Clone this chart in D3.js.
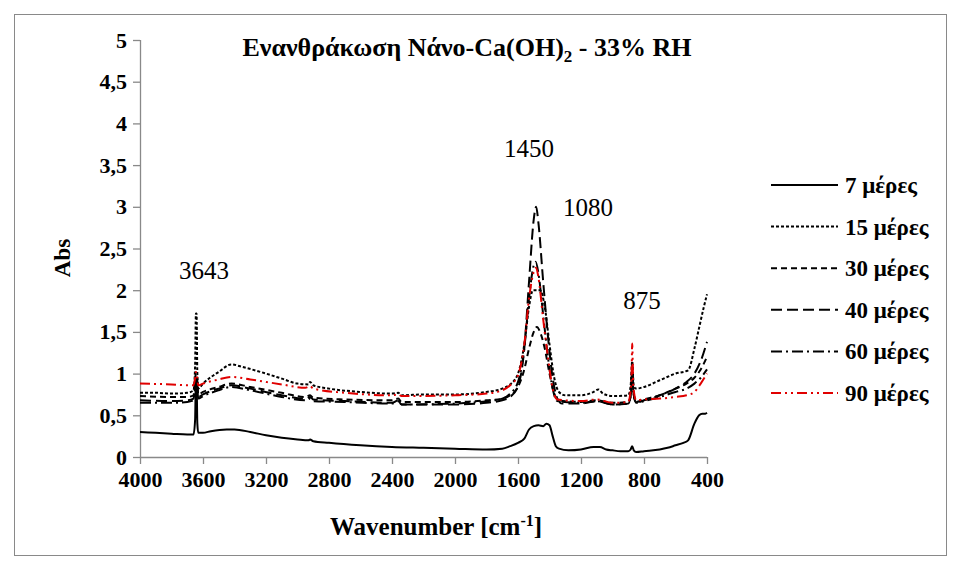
<!DOCTYPE html>
<html>
<head>
<meta charset="utf-8">
<script src="https://cdn.jsdelivr.net/npm/d3@7"></script>
<style>
  body { margin: 0; background: #fff; }
  svg text { font-family: "Liberation Serif", "Times New Roman", Times, "DejaVu Serif", serif; }
</style>
</head>
<body>
<div id="chart"></div>
<script>
// series: [wavenumber, absorbance]
var days7 = [[4000,0.30],[3900,0.29],[3800,0.28],[3700,0.27],[3660,0.27],[3650,0.45],[3645,0.95],[3641,0.95],[3636,0.40],[3630,0.29],[3600,0.29],[3550,0.31],[3450,0.33],[3400,0.33],[3300,0.30],[3200,0.26],[3100,0.23],[3000,0.21],[2930,0.20],[2920,0.21],[2900,0.19],[2800,0.17],[2600,0.14],[2400,0.12],[2200,0.11],[2000,0.10],[1800,0.09],[1700,0.10],[1650,0.13],[1600,0.17],[1560,0.22],[1530,0.33],[1500,0.37],[1470,0.38],[1440,0.37],[1420,0.40],[1400,0.38],[1380,0.25],[1360,0.13],[1340,0.10],[1280,0.08],[1200,0.09],[1120,0.12],[1080,0.12],[1040,0.09],[1000,0.08],[950,0.07],[900,0.07],[885,0.09],[875,0.13],[865,0.08],[850,0.06],[800,0.07],[700,0.09],[650,0.11],[600,0.14],[550,0.17],[520,0.20],[480,0.40],[450,0.50],[430,0.52],[410,0.52],[400,0.53]];

var days15 = [[4000,0.77],[3900,0.77],[3800,0.76],[3700,0.77],[3660,0.80],[3650,1.10],[3645,1.72],[3641,1.72],[3636,1.00],[3630,0.82],[3600,0.88],[3500,1.02],[3420,1.11],[3350,1.08],[3200,1.00],[3100,0.94],[3000,0.88],[2930,0.87],[2920,0.90],[2900,0.86],[2800,0.82],[2600,0.78],[2400,0.76],[2360,0.77],[2340,0.74],[2200,0.75],[2000,0.75],[1800,0.78],[1700,0.82],[1650,0.87],[1600,1.00],[1560,1.35],[1530,1.80],[1505,2.00],[1460,2.00],[1430,1.80],[1400,1.35],[1370,0.95],[1340,0.78],[1300,0.74],[1200,0.74],[1120,0.78],[1090,0.81],[1060,0.76],[1000,0.73],[900,0.74],[885,0.85],[875,1.15],[865,0.85],[850,0.82],[800,0.84],[700,0.92],[600,1.00],[520,1.04],[480,1.30],[450,1.55],[420,1.80],[400,1.95]];

var days30 = [[4000,0.73],[3800,0.72],[3700,0.72],[3660,0.74],[3645,1.00],[3640,1.00],[3630,0.75],[3600,0.78],[3500,0.84],[3420,0.88],[3300,0.84],[3100,0.77],[2950,0.72],[2920,0.74],[2900,0.71],[2700,0.69],[2400,0.68],[2360,0.70],[2340,0.66],[2000,0.66],[1800,0.68],[1700,0.70],[1650,0.74],[1600,0.84],[1560,1.05],[1530,1.30],[1500,1.50],[1480,1.56],[1460,1.50],[1430,1.30],[1400,1.00],[1370,0.76],[1340,0.68],[1200,0.66],[1100,0.68],[1000,0.65],[900,0.66],[880,0.80],[875,1.08],[868,0.80],[850,0.66],[800,0.69],[700,0.74],[600,0.82],[530,0.88],[480,0.95],[440,1.05],[400,1.20]];

var days40 = [[4000,0.68],[3800,0.67],[3700,0.68],[3660,0.70],[3645,0.95],[3640,0.95],[3630,0.72],[3600,0.75],[3500,0.82],[3420,0.86],[3300,0.82],[3100,0.74],[2950,0.70],[2920,0.72],[2900,0.69],[2700,0.67],[2400,0.65],[2360,0.68],[2340,0.63],[2000,0.63],[1800,0.65],[1700,0.68],[1650,0.72],[1600,0.85],[1560,1.30],[1530,2.10],[1500,2.85],[1485,3.00],[1470,2.80],[1440,2.10],[1410,1.45],[1380,0.95],[1350,0.70],[1320,0.64],[1200,0.64],[1100,0.67],[1000,0.63],[900,0.64],[880,0.80],[875,1.12],[868,0.80],[850,0.65],[800,0.68],[700,0.74],[600,0.82],[530,0.90],[480,1.00],[440,1.15],[400,1.38]];

var days60 = [[4000,0.65],[3800,0.65],[3700,0.66],[3660,0.68],[3645,0.90],[3640,0.90],[3630,0.70],[3600,0.73],[3500,0.80],[3420,0.84],[3300,0.80],[3100,0.72],[2950,0.68],[2920,0.70],[2900,0.67],[2700,0.66],[2400,0.64],[2360,0.67],[2340,0.63],[2000,0.64],[1800,0.67],[1700,0.70],[1650,0.76],[1600,0.90],[1560,1.30],[1530,1.90],[1500,2.30],[1488,2.34],[1470,2.20],[1440,1.70],[1410,1.20],[1380,0.82],[1350,0.67],[1200,0.65],[1100,0.67],[1000,0.63],[900,0.64],[880,0.80],[875,1.05],[868,0.78],[850,0.65],[800,0.67],[700,0.72],[600,0.78],[530,0.82],[480,0.88],[440,0.95],[400,1.05]];

var days90 = [[4000,0.88],[3800,0.87],[3700,0.86],[3660,0.86],[3650,0.95],[3645,1.02],[3640,1.00],[3630,0.86],[3600,0.88],[3500,0.93],[3420,0.96],[3300,0.93],[3100,0.87],[2950,0.83],[2920,0.85],[2900,0.82],[2700,0.77],[2400,0.74],[2360,0.75],[2340,0.73],[2000,0.74],[1800,0.76],[1700,0.80],[1650,0.86],[1600,0.98],[1560,1.35],[1530,1.90],[1500,2.22],[1485,2.27],[1470,2.15],[1440,1.65],[1410,1.20],[1380,0.82],[1350,0.69],[1200,0.67],[1100,0.69],[1000,0.65],[900,0.66],[880,0.90],[875,1.36],[868,0.85],[850,0.68],[800,0.69],[700,0.70],[600,0.72],[530,0.74],[480,0.78],[440,0.88],[400,1.00]];

var seriesNames = ["7 μέρες", "15 μέρες", "30 μέρες", "40 μέρες", "60 μέρες", "90 μέρες"];
var xTicks = [4000, 3600, 3200, 2800, 2400, 2000, 1600, 1200, 800, 400];
var yTicks = [0, 0.5, 1, 1.5, 2, 2.5, 3, 3.5, 4, 4.5, 5];
var peakLabels = [["3643", 204, 279], ["1450", 529, 157], ["1080", 588, 216], ["875", 642, 309]];

var W = 957, H = 570;
var margin = {top: 40, right: 250, bottom: 113, left: 140},
    width = 707 - margin.left,
    height = 457 - margin.top;

var svg = d3.select("#chart").append("svg")
    .attr("width", W)
    .attr("height", H);

// outer frame
svg.append("rect")
    .attr("x", 14.5).attr("y", 14.5)
    .attr("width", 932).attr("height", 541)
    .attr("fill", "none")
    .attr("stroke", "#898989");

var g = svg.append("g")
    .attr("transform", "translate(" + margin.left + "," + margin.top + ")");

var x = d3.scaleLinear().domain([4000, 400]).range([0, width]);
var y = d3.scaleLinear().domain([0, 5]).range([height, 0]);

var fmt = function(d) { return String(d).replace(".", ","); };

// axes
var yAxis = g.append("g")
    .call(d3.axisLeft(y).tickValues(yTicks).tickSize(7).tickPadding(6).tickFormat(fmt));
var xAxis = g.append("g")
    .attr("transform", "translate(0," + height + ")")
    .call(d3.axisBottom(x).tickValues(xTicks).tickSize(7).tickPadding(7).tickFormat(d3.format("d")));

[yAxis, xAxis].forEach(function(a) {
  a.attr("font-family", null);
  a.selectAll("path, line").attr("stroke", "#898989").attr("stroke-width", 1.3);
  a.select(".domain").attr("d", a === yAxis ? "M0.5,0V" + height : "M0," + (0.5) + "H" + width);
  a.selectAll("text")
      .attr("fill", "#000")
      .style("font-weight", "bold")
      .style("font-size", "22px");
});

// lines
var styles = [
  {dash: null, color: "#000"},
  {dash: "3,2", color: "#000"},
  {dash: "6,4", color: "#000"},
  {dash: "11,5", color: "#000"},
  {dash: "11,4,2,4", color: "#000"},
  {dash: "10,4,2,4,2,4", color: "#e00000"}
];
var allSeries = [days7, days15, days30, days40, days60, days90];

var line = d3.line()
    .curve(d3.curveMonotoneX)
    .x(function(d) { return x(d[0]); })
    .y(function(d) { return y(d[1]); });

allSeries.forEach(function(s, i) {
  g.append("path")
      .datum(s)
      .attr("fill", "none")
      .attr("stroke", styles[i].color)
      .attr("stroke-width", 2)
      .attr("stroke-dasharray", styles[i].dash)
      .attr("d", line);
});

// peak labels
peakLabels.forEach(function(p) {
  svg.append("text")
      .attr("x", p[1]).attr("y", p[2])
      .attr("text-anchor", "middle")
      .style("font-size", "25px")
      .text(p[0]);
});

// title
var title = svg.append("text")
    .attr("x", 467).attr("y", 56)
    .attr("text-anchor", "middle")
    .style("font-size", "26px")
    .style("font-weight", "bold");
title.append("tspan").text("Ενανθράκωση Νάνο-Ca(OH)");
title.append("tspan").attr("dy", 6).style("font-size", "17px").text("2");
title.append("tspan").attr("dy", -6).text(" - 33% RH");

// axis titles
svg.append("text")
    .attr("transform", "translate(70,258) rotate(-90)")
    .attr("text-anchor", "middle")
    .style("font-size", "23px")
    .style("font-weight", "bold")
    .text("Abs");

var xt = svg.append("text")
    .attr("x", 436).attr("y", 535)
    .attr("text-anchor", "middle")
    .style("font-size", "25px")
    .style("font-weight", "bold");
xt.append("tspan").text("Wavenumber [cm");
xt.append("tspan").attr("dy", -9).style("font-size", "16px").text("-1");
xt.append("tspan").attr("dy", 9).text("]");

// legend
var legend = svg.append("g");
seriesNames.forEach(function(name, i) {
  var ly = 185 + i * 41.6;
  legend.append("line")
      .attr("x1", 771).attr("x2", 838)
      .attr("y1", ly).attr("y2", ly)
      .attr("stroke", styles[i].color)
      .attr("stroke-width", 2)
      .attr("stroke-dasharray", styles[i].dash);
  legend.append("text")
      .attr("x", 845).attr("y", ly + 8)
      .style("font-size", "23px")
      .style("font-weight", "bold")
      .text(name);
});
</script>
</body>
</html>
